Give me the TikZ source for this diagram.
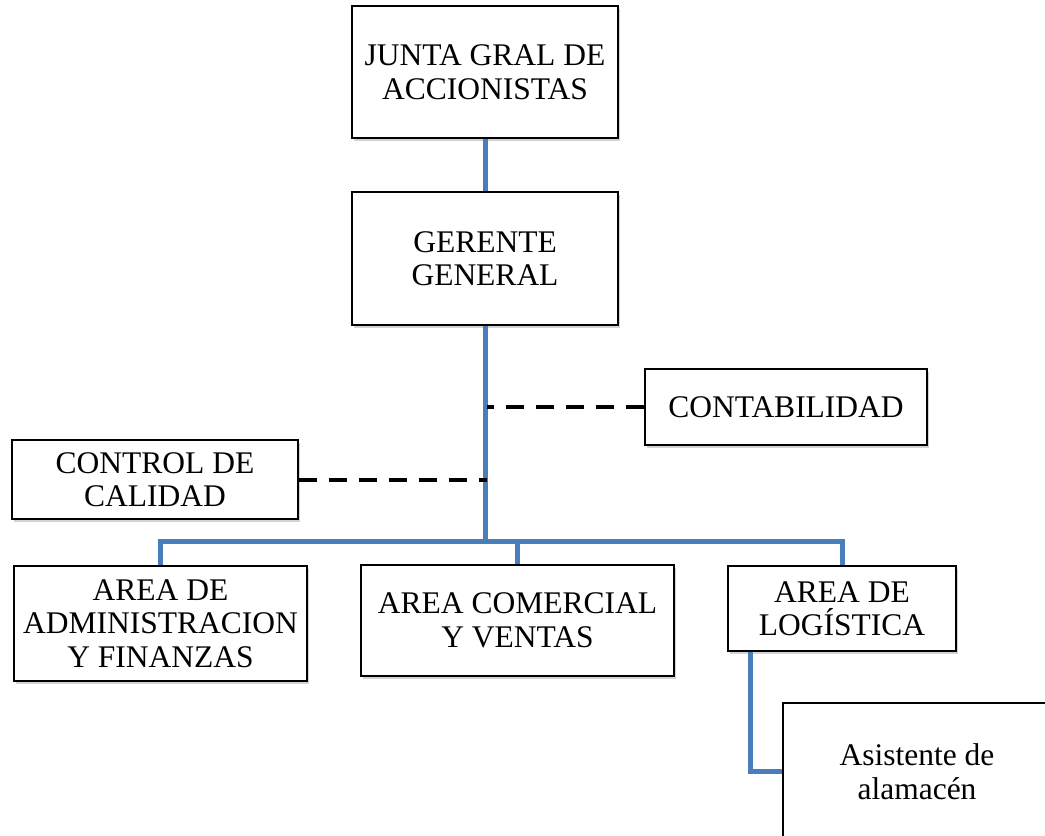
\documentclass[tikz,border=0pt]{standalone}
\usepackage{fontspec}
\setmainfont{Liberation Serif}
\usetikzlibrary{shadows}
\definecolor{conn}{HTML}{4A7EBB}
\begin{document}
\begin{tikzpicture}[x=1pt,y=-1pt,
  box/.style={draw=black,line width=1.4pt,fill=white,align=center,inner sep=0pt,
    font=\fontsize{31.5}{33.5}\selectfont,
    drop shadow={shadow xshift=2pt,shadow yshift=-2.5pt,opacity=0.35,fill=gray}},
  solidconn/.style={draw=conn,line width=5pt},
  dashconn/.style={draw=black,line width=4pt,dash pattern=on 18pt off 12pt}]
\useasboundingbox (0,0) rectangle (1045,836);
\clip (0,0) rectangle (1045,836);
\node[box,minimum width=266pt,minimum height=132pt] (jun) at (485,72) {JUNTA GRAL DE\\ACCIONISTAS};
\node[box,minimum width=266pt,minimum height=133pt] (ger) at (485,258.5) {GERENTE\\GENERAL};
\node[box,minimum width=282pt,minimum height=76pt] (con) at (786,407) {CONTABILIDAD};
\node[box,minimum width=286pt,minimum height=79pt] (cal) at (155,479.5) {CONTROL DE\\CALIDAD};
\node[box,minimum width=293pt,minimum height=115pt] (adm) at (160.5,623.5) {AREA DE\\ADMINISTRACION\\Y FINANZAS};
\node[box,minimum width=313pt,minimum height=111pt] (com) at (517.5,620.5) {AREA COMERCIAL\\Y VENTAS};
\node[box,minimum width=228pt,minimum height=85pt] (log) at (842,608.5) {AREA DE\\LOGÍSTICA};
\node[box,minimum width=268pt,minimum height=137pt] (asi) at (917,771.5) {Asistente de\\alamacén};
\coordinate (bus) at (485,541);
\draw[solidconn] (jun.south) -- (ger.north);
\draw[solidconn] (ger.south) -- (bus);
\draw[solidconn] (adm.north) |- (bus) -| (log.north);
\draw[solidconn] (com.north) -- (com.north |- bus);
\draw[solidconn] ([xshift=23pt]log.south west) |- (asi.west);
\draw[dashconn] (con.west) -- ([xshift=2pt]con.west -| ger.south);
\draw[dashconn] (cal.east) -- ([xshift=2pt]cal.east -| ger.south);
\end{tikzpicture}
\end{document}
